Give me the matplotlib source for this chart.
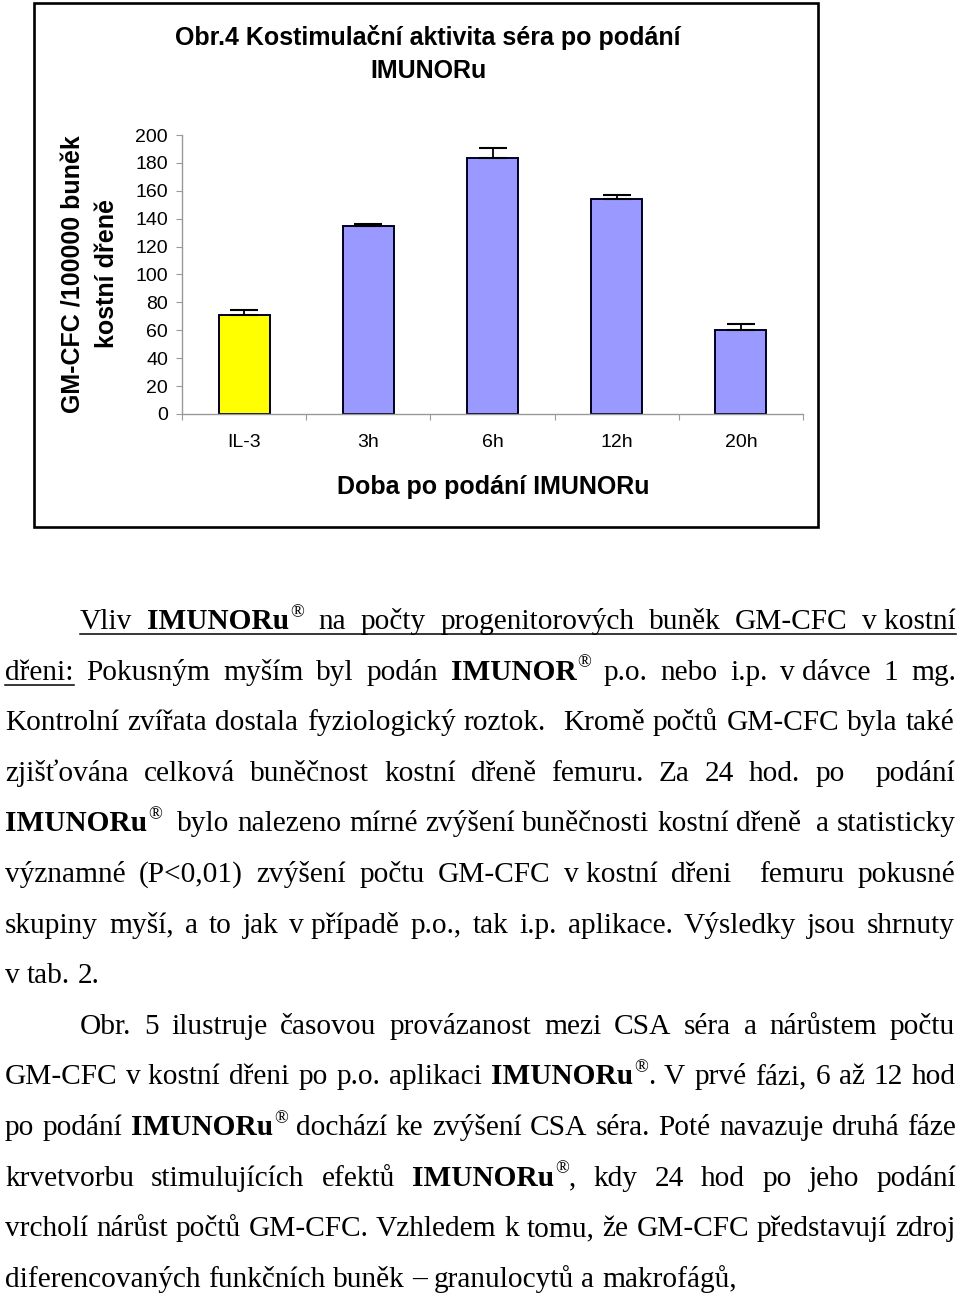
import matplotlib
matplotlib.use('Agg')
import matplotlib.pyplot as plt
from matplotlib.patches import Rectangle
from matplotlib.lines import Line2D

# chart data
categories = ['IL-3', '3h', '6h', '12h', '20h']
values = [71, 134.5, 183.5, 154, 60]
errors = [3.5, 2, 7, 3, 4.5]
bar_colors = ['#FFFF00', '#9999FF', '#9999FF', '#9999FF', '#9999FF']
yticks = list(range(0, 201, 20))

title_lines = ['Obr.4 Kostimulační aktivita séra po podání', 'IMUNORu']
ylabel_lines = ['GM-CFC /100000 buněk', 'kostní dřeně']
xlabel = 'Doba po podání IMUNORu'

# body text: each line is a list of (text, style); r=regular, b=bold, s=superscript, u=underlined
# '\u00a0' marks a space that is not stretched when justifying
body_lines = [
    ([('Vliv ', 'ru'), ('IMUNORu', 'bu'), ('®', 'su'),
      (' na počty progenitorových buněk GM-CFC v\u00a0kostní', 'ru')], True, True),
    ([('dřeni:', 'ru'), (' Pokusným myším byl podán ', 'r'), ('IMUNOR', 'b'), ('®', 's'),
      (' p.o. nebo i.p. v\u00a0dávce 1 mg.', 'r')], False, True),
    ([('Kontrolní zvířata dostala fyziologický roztok.  Kromě počtů GM-CFC byla také', 'r')], False, True),
    ([('zjišťována celková buněčnost kostní dřeně femuru. Za 24 hod. po  podání', 'r')], False, True),
    ([('IMUNORu', 'b'), ('®', 's'),
      ('  bylo nalezeno mírné zvýšení buněčnosti kostní dřeně  a statisticky', 'r')], False, True),
    ([('významné (P<0,01) zvýšení počtu GM-CFC v\u00a0kostní dřeni  femuru pokusné', 'r')], False, True),
    ([('skupiny myší, a to jak v\u00a0případě p.o., tak i.p. aplikace. Výsledky jsou shrnuty', 'r')], False, True),
    ([('v tab. 2.', 'r')], False, False),
    ([('Obr. 5 ilustruje časovou provázanost mezi CSA séra a nárůstem počtu', 'r')], True, True),
    ([('GM-CFC v\u00a0kostní dřeni po p.o. aplikaci ', 'r'), ('IMUNORu', 'b'), ('®', 's'),
      ('. V prvé fázi, 6 až 12 hod', 'r')], False, True),
    ([('po podání ', 'r'), ('IMUNORu', 'b'), ('®', 's'),
      (' dochází ke zvýšení CSA séra. Poté navazuje druhá fáze', 'r')], False, True),
    ([('krvetvorbu stimulujících efektů ', 'r'), ('IMUNORu', 'b'), ('®', 's'),
      (', kdy 24 hod po jeho podání', 'r')], False, True),
    ([('vrcholí nárůst počtů GM-CFC. Vzhledem k tomu, že GM-CFC představují zdroj', 'r')], False, True),
    ([('diferencovaných funkčních buněk – granulocytů a makrofágů,', 'r')], False, False),
]

W, H = 960, 1299
fig = plt.figure(figsize=(W / 100, H / 100), dpi=100)
renderer = fig.canvas.get_renderer()

SANS = ['Liberation Sans', 'DejaVu Sans']
SERIF = ['Liberation Serif', 'DejaVu Serif']


def fx(px):
    return px / W


def fy(py):
    return 1 - py / H


# ---- chart ----
fig.add_artist(Rectangle((fx(34), fy(527)), fx(818) - fx(34), fy(3) - fy(527),
                         transform=fig.transFigure, fill=False, edgecolor='black', linewidth=1.9))

ax = fig.add_axes([fx(182), fy(414), fx(803) - fx(182), fy(135) - fy(414)])
x = list(range(len(categories)))
ax.bar(x, values, width=0.41, color=bar_colors, edgecolor='#000022', linewidth=1.4, zorder=2)
ax.errorbar(x, values, yerr=[[0] * len(errors), errors], fmt='none', ecolor='black',
            elinewidth=1.3, capsize=10, capthick=1.5, zorder=3)
ax.set_xlim(-0.5, len(categories) - 0.5)
ax.set_ylim(0, 200)
ax.set_yticks(yticks)
ax.set_yticklabels([str(v) for v in yticks], family=SANS, fontsize=14)
ax.set_xticks(x)
ax.set_xticklabels(categories, family=SANS, fontsize=14)
ax.set_xticks([i - 0.5 for i in range(len(categories) + 1)], minor=True)
ax.tick_params(axis='x', which='major', length=0, pad=14.5)
ax.tick_params(axis='x', which='minor', length=4, color='#999999', width=0.8)
ax.tick_params(axis='y', length=4, color='#999999', width=0.8, pad=6)
for side in ['top', 'right']:
    ax.spines[side].set_visible(False)
for side in ['left', 'bottom']:
    ax.spines[side].set_color('#999999')
    ax.spines[side].set_linewidth(1.0)
ax.set_facecolor('white')

fig.text(fx(428), fy(38), title_lines[0], ha='center', va='center', family=SANS,
         fontsize=18, fontweight='bold')
fig.text(fx(428), fy(71), title_lines[1], ha='center', va='center', family=SANS,
         fontsize=18, fontweight='bold')
fig.text(fx(74), fy(274), ylabel_lines[0], rotation=90, ha='center', va='center',
         family=SANS, fontsize=18, fontweight='bold')
fig.text(fx(107), fy(274), ylabel_lines[1], rotation=90, ha='center', va='center',
         family=SANS, fontsize=18, fontweight='bold')
fig.text(fx(493), fy(487), xlabel, ha='center', va='center', family=SANS,
         fontsize=18, fontweight='bold')

# ---- body text ----
BODY = 21.2
EM = BODY * 100 / 72


def style_kw(style):
    kw = dict(family=SERIF, fontsize=BODY, va='baseline', ha='left')
    if style[0] == 'b':
        kw['fontweight'] = 'bold'
    if style[0] == 's':
        kw['fontsize'] = BODY * 0.62
    return kw


def measure(s, style):
    t = fig.text(0, 0, s, **style_kw(style))
    w = t.get_window_extent(renderer).width
    t.remove()
    return w


def tokenize(segments):
    words = []
    runs = []
    gap = 0
    for text, style in segments:
        buf = ''
        for ch in text:
            if ch == ' ':
                if buf:
                    runs.append((buf, style))
                    buf = ''
                if runs:
                    words.append((gap, runs))
                    runs = []
                    gap = 0
                gap += 1
            else:
                buf += ch
        if buf:
            runs.append((buf, style))
    if runs:
        words.append((gap, runs))
    return words


space_w = measure('x x', 'r') - measure('xx', 'r')
left_margin, right_margin, indent = 5, 955, 80
baseline0, line_step = 629, 50.6

for i, (segments, indented, justify) in enumerate(body_lines):
    y = baseline0 + i * line_step
    x0 = left_margin + (indent - left_margin if indented else 0)
    words = tokenize(segments)
    widths = [[measure(s, st) for s, st in runs] for _, runs in words]
    total = sum(sum(w) for w in widths)
    ngaps = sum(g for g, _ in words[1:])
    unit = (right_margin - x0 - total) / ngaps if (justify and ngaps) else space_w
    cx = x0
    ul = []
    for k, ((gap, runs), ws) in enumerate(zip(words, widths)):
        if k > 0:
            cx += gap * unit
        for (s, st), w in zip(runs, ws):
            yy = y - (EM * 0.42 if st[0] == 's' else 0)
            if st[0] == 's':
                cx += 1
            fig.text(fx(cx), fy(yy), s, **style_kw(st))
            if 'u' in st:
                ul.append((cx, cx + w))
            cx += w
    if ul:
        xa = min(a for a, _ in ul)
        xb = max(b for _, b in ul)
        fig.add_artist(Line2D([fx(xa), fx(xb)], [fy(y + 5), fy(y + 5)],
                              transform=fig.transFigure, color='black', linewidth=1.1))

fig.savefig('out.png', dpi=100, facecolor='white')
